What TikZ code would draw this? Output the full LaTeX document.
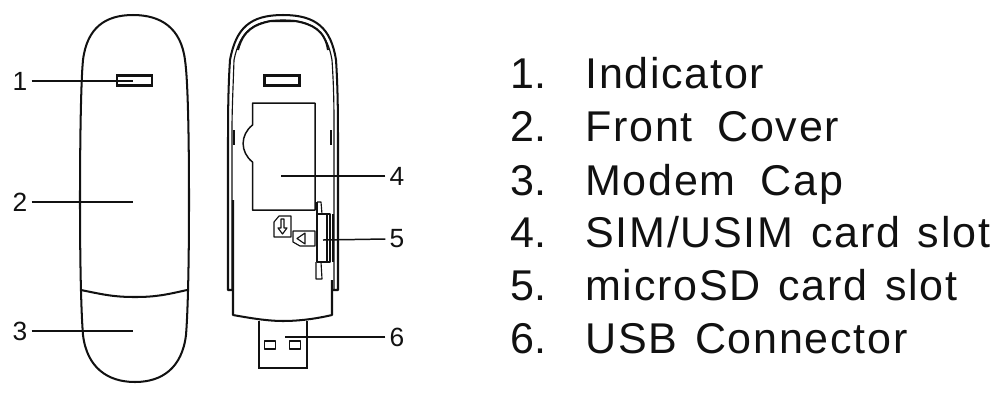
\documentclass[tikz,border=0pt]{standalone}
\usepackage{xcolor}
\usepackage{fontspec}
\setmainfont{Liberation Sans}
\usetikzlibrary{arrows.meta,positioning,calc}
\definecolor{devInk}{HTML}{111111}
\newfontfamily\listfont[LetterSpace=4.0,WordSpace=1.3]{Liberation Sans}
\tikzset{
  outline/.style={draw=devInk, line width=1.15pt, line join=round},
  thinline/.style={draw=devInk, line width=0.65pt, line join=round},
  heavyline/.style={draw=devInk, line width=1.6pt, line join=miter},
  ledbox/.style={heavyline, inner sep=0pt, minimum width=0.7cm, minimum height=0.19cm},
  holebox/.style={thinline, inner sep=0pt, minimum width=0.21cm, minimum height=0.16cm},
  leader/.style={draw=devInk, line width=0.85pt},
  callout/.style={font=\fontsize{15}{17}\selectfont, text=devInk, inner sep=0pt},
  itemno/.style={font=\fontsize{24.5}{28}\selectfont, text=devInk, inner sep=0pt, anchor=base west},
  itemtext/.style={font=\listfont\fontsize{24.5}{28}\selectfont, text=devInk, inner sep=0pt, anchor=base west}
}
\begin{document}
\begin{tikzpicture}[x=0.02cm,y=-0.02cm]
\useasboundingbox (0,0) rectangle (1000,400);

% front view
\draw[outline] (133,15) .. controls (105,15) and (87,28) .. (83,60)
  .. controls (81,80) and (80,140) .. (80,200)
  .. controls (80,260) and (81,310) .. (83,335)
  .. controls (87,368) and (108,382) .. (135,382)
  .. controls (162,382) and (182,368) .. (186,335)
  .. controls (188,310) and (189,260) .. (189,200)
  .. controls (189,140) and (188,80) .. (185,60)
  .. controls (181,28) and (161,15) .. cycle;
\draw[outline] (81,290) .. controls (105,295) and (115,297) .. (135,297)
  .. controls (155,297) and (165,295) .. (187,290);
\node[ledbox] (ledfront) at (134.5,80.5) {};

% back view, shell
\draw[outline] (283,15) .. controls (250,15) and (236,28) .. (230,60)
  .. controls (228,90) and (228,120) .. (228,150) -- (228,290) -- (232,290);
\draw[outline] (283,15) .. controls (316,15) and (331,28) .. (336,60)
  .. controls (338,90) and (338,120) .. (338,150) -- (338,290) -- (333,290);
\draw[thinline] (283,20) .. controls (255,20) and (240,30) .. (234,60)
  .. controls (233,90) and (232,110) .. (232,130) -- (232,290);
\draw[thinline] (283,20) .. controls (311,20) and (327,30) .. (332,60)
  .. controls (334,90) and (334,110) .. (334,130) -- (334,290);
\draw[outline] (238,50) .. controls (243,30) and (255,24) .. (271,21)
  -- (295,21) .. controls (312,24) and (325,30) .. (328,50);
\draw[thinline] (234,130) -- (234,145);
\draw[thinline] (331,130) -- (331,145);
\draw[outline] (233,200) -- (233,270) -- (233,315)
  .. controls (255,319) and (270,321) .. (283,321)
  .. controls (298,321) and (315,319) .. (332,315) -- (332,280);
\node[ledbox] (ledback) at (282,80.5) {};

% SIM slot
\draw[thinline, line width=0.85pt] (252.5,125) -- (252.5,103) -- (315,103) -- (315,210) -- (252.5,210) -- (252.5,162)
  .. controls (240,152) and (240,135) .. cycle;

% card icons
\draw[thinline] (274,237) -- (274,222) -- (279,216) -- (291,216) -- (291,237) -- cycle;
\draw[thinline] (281,219) -- (281,228) -- (278,228) -- (282.5,234) -- (287,228) -- (284,228) -- (284,219) -- cycle;
\draw[thinline] (293,231) -- (315,231) -- (315,246) -- (300,246) -- (293,242) -- cycle;
\draw[thinline] (305,233) -- (305,244) -- (297,238.5) -- cycle;

% microSD slot
\draw[thinline] (317,202) -- (321,202) -- (322,214);
\draw[thinline] (317,202) -- (317,214);
\draw[thinline] (316,262) -- (316,279) -- (322,279) -- (321,262);
\draw[outline] (317,214) rectangle (330,262);
\draw[thinline] (327,214) -- (327,262);
\draw[thinline] (333,214) -- (333,262);

% USB plug
\draw[outline] (259,321) -- (259,368) -- (307,368) -- (307,321);
\draw[heavyline] (258,368) -- (308,368);
\node[holebox] (holeA) at (270,345) {};
\node[holebox] (holeB) at (295,345) {};

% callouts
\node[callout] (c1) at (20,81) {1};
\node[callout] (c2) at (20,202) {2};
\node[callout] (c3) at (20,331) {3};
\node[callout] (c4) at (397,176) {4};
\node[callout] (c5) at (397,239) {5};
\node[callout] (c6) at (397,337) {6};
\coordinate (p1) at (133,81);
\coordinate (p2) at (133,202);
\coordinate (p3) at (133,331);
\coordinate (p4) at (281,176);
\coordinate (p5) at (323,240);
\coordinate (p6) at (285,337);
\draw[leader] (c1.east) ++(4,0) -- (p1);
\draw[leader] (c2.east) ++(4,0) -- (p2);
\draw[leader] (c3.east) ++(4,0) -- (p3);
\draw[leader] (c4.west) ++(-4,0) -- (p4);
\draw[leader] (c5.west) ++(-4,0) -- (p5);
\draw[leader] (c6.west) ++(-4,0) -- (p6);

% list
\node[itemno] (n1) at (510,88) {1.};
\node[itemno] (n2) at (510,141) {2.};
\node[itemno] (n3) at (510,195) {3.};
\node[itemno] (n4) at (510,247) {4.};
\node[itemno] (n5) at (510,300) {5.};
\node[itemno] (n6) at (510,353) {6.};
\node[itemtext] (t1) at (585,88) {Indicator};
\node[itemtext] (t2) at (585,141) {Front\hspace{4pt} Cover};
\node[itemtext] (t3) at (585,195) {Modem\hspace{4pt} Cap};
\node[itemtext] (t4) at (585,247) {SIM/USIM card slot};
\node[itemtext] (t5) at (585,300) {microSD card slot};
\node[itemtext] (t6) at (585,353) {USB Connector};
\end{tikzpicture}
\end{document}
